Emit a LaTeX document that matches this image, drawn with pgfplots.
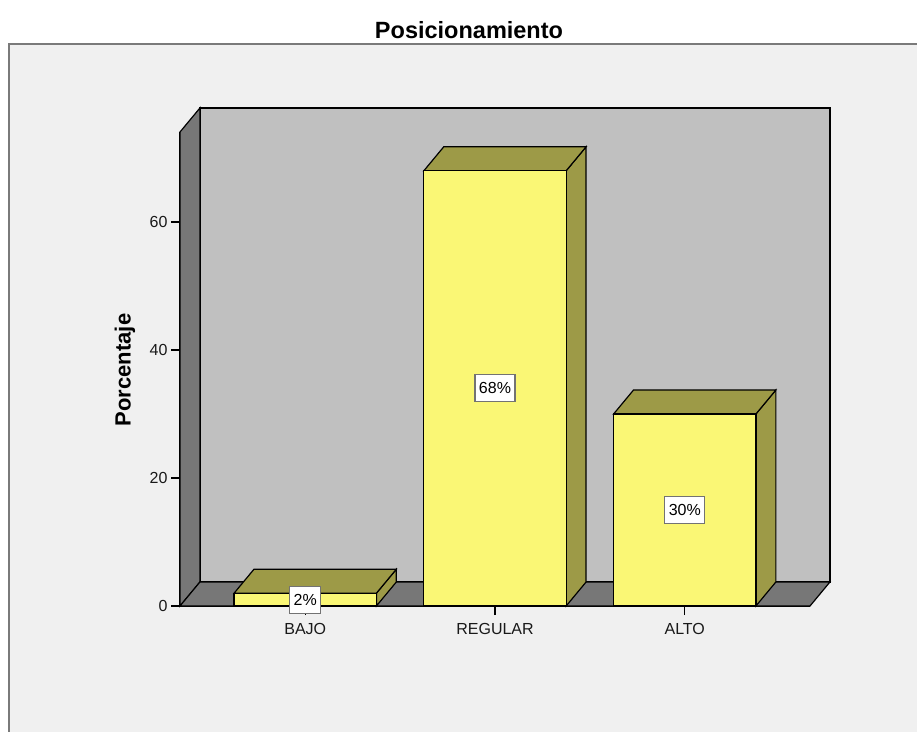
\documentclass[border=0pt]{standalone}
\usepackage{pgfplots}
\pgfplotsset{compat=1.18}
\usepackage{pgfplotstable}
\usepackage{fontspec}
\setmainfont{Liberation Sans}
\definecolor{panelbg}{HTML}{F0F0F0}
\definecolor{panelborder}{HTML}{7A7A7A}
\definecolor{backwall}{HTML}{C0C0C0}
\definecolor{sidewall}{HTML}{777777}
\definecolor{barfront}{HTML}{FAF775}
\definecolor{bartop}{HTML}{9D9A47}

\pgfplotstableread{
x y
0 2
1 68
2 30
}\datatable

\begin{document}
\begin{tikzpicture}[x=1pt,y=1pt]
\path[use as bounding box] (0,0) rectangle (917,731);
\fill[panelbg] (9,-20) rectangle (940,687);
\draw[panelborder, line width=1.5pt] (9,-20) -- (9,687) -- (940,687);
\node[font=\fontsize{23.5}{28}\selectfont\bfseries] at (469,701) {Posicionamiento};
\node[font=\fontsize{22}{26}\selectfont\bfseries, rotate=90] at (125,361) {Porcentaje};
\begin{axis}[
  at={(180pt,125pt)}, anchor=south west,
  scale only axis, width=630pt, height=474pt,
  xmin=-0.66, xmax=2.66, ymin=0, ymax=74.06,
  clip=false,
  axis x line*=bottom, axis y line*=left,
  axis line style={black, line width=1.2pt, -},
  xtick={0,1,2}, xticklabels={BAJO,REGULAR,ALTO},
  ytick={0,20,40,60},
  tick align=outside, major tick length=9pt,
  tick style={black, line width=1.2pt},
  ticklabel style={font=\fontsize{16}{18}\selectfont, text=black!90},
  xticklabel style={yshift=-5pt},
  /pgf/number format/assume math mode=true,
]
% back wall, left wall, floor
\addplot[fill=backwall, draw=black, line width=1.2pt] coordinates {(-0.555,3.75) (2.765,3.75) (2.765,77.81) (-0.555,77.81)} -- cycle;
\addplot[fill=sidewall, draw=black, line width=1.2pt] coordinates {(-0.66,0) (-0.555,3.75) (-0.555,77.81) (-0.66,74.06)} -- cycle;
\addplot[fill=sidewall, draw=black, line width=1.2pt] coordinates {(-0.66,0) (2.66,0) (2.765,3.75) (-0.555,3.75)} -- cycle;
% BAJO 2
\addplot[fill=bartop, draw=black, line width=1.2pt] coordinates {(0.375,0) (0.48,3.75) (0.48,5.75) (0.375,2)} -- cycle;
\addplot[fill=bartop, draw=black, line width=1.2pt] coordinates {(-0.375,2) (-0.27,5.75) (0.48,5.75) (0.375,2)} -- cycle;
% REGULAR 68
\addplot[fill=bartop, draw=black, line width=1.2pt] coordinates {(1.375,0) (1.48,3.75) (1.48,71.75) (1.375,68)} -- cycle;
\addplot[fill=bartop, draw=black, line width=1.2pt] coordinates {(0.625,68) (0.73,71.75) (1.48,71.75) (1.375,68)} -- cycle;
% ALTO 30
\addplot[fill=bartop, draw=black, line width=1.2pt] coordinates {(2.375,0) (2.48,3.75) (2.48,33.75) (2.375,30)} -- cycle;
\addplot[fill=bartop, draw=black, line width=1.2pt] coordinates {(1.625,30) (1.73,33.75) (2.48,33.75) (2.375,30)} -- cycle;
% front faces
\addplot[ybar, bar width=0.75, fill=barfront, draw=black, line width=1.2pt] table[x=x, y=y] {\datatable};
% value labels
\addplot[draw=none, nodes near coords={\pgfmathprintnumber[fixed,precision=0]{\pgfplotspointmeta}\%},
  point meta=explicit,
  every node near coord/.style={anchor=center, fill=white, draw=black!55, line width=1.2pt,
    font=\fontsize{16}{18}\selectfont, inner xsep=4pt, inner ysep=0pt, minimum height=27pt, text=black}]
  table[x=x, y expr=\thisrow{y}/2, meta=y] {\datatable};
\end{axis}
\end{tikzpicture}
\end{document}
